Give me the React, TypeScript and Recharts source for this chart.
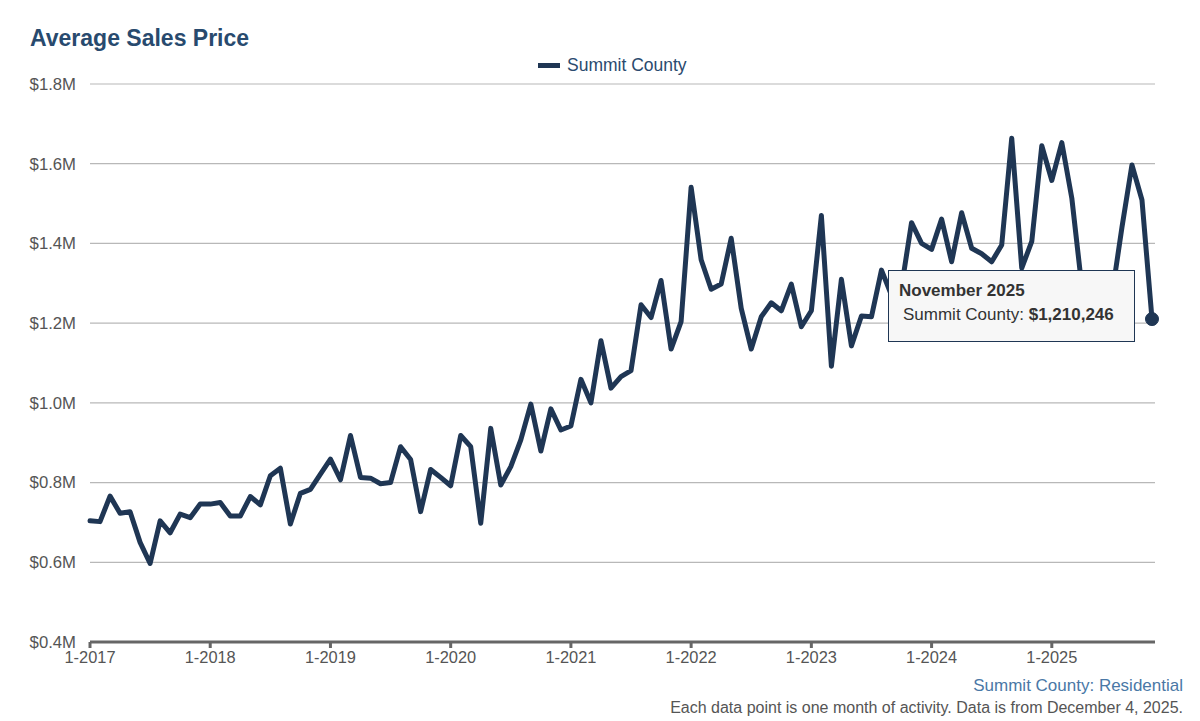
import { LineChart, Line, XAxis, YAxis, CartesianGrid, Tooltip } from 'recharts';

// Average residential sales price, one entry per month from Jan 2017 to Nov 2025
const FIRST_YEAR = 2017;
const MONTH_NAMES = [
  'January', 'February', 'March', 'April', 'May', 'June',
  'July', 'August', 'September', 'October', 'November', 'December',
];
const avgPrice = [
  // 2017
  704000, 702000, 766000, 723000, 727000, 650000, 597000, 704000, 674000, 721000, 712000, 746000,
  // 2018
  746000, 750000, 716000, 716000, 765000, 744000, 817000, 836000, 696000, 773000, 783000, 821000,
  // 2019
  859000, 807000, 918000, 813000, 811000, 797000, 800000, 890000, 858000, 727000, 833000, 813000,
  // 2020
  792000, 918000, 890000, 698000, 936000, 794000, 840000, 907000, 997000, 879000, 985000, 932000,
  // 2021
  942000, 1059000, 1000000, 1156000, 1037000, 1066000, 1081000, 1246000, 1214000, 1307000, 1135000, 1204000,
  // 2022
  1541000, 1359000, 1285000, 1298000, 1413000, 1237000, 1135000, 1216000, 1251000, 1231000, 1298000, 1191000,
  // 2023
  1231000, 1470000, 1092000, 1310000, 1143000, 1218000, 1216000, 1333000, 1270000, 1290000, 1452000, 1400000,
  // 2024
  1385000, 1461000, 1354000, 1477000, 1388000, 1374000, 1354000, 1396000, 1664000, 1338000, 1405000, 1645000,
  // 2025
  1558000, 1653000, 1513000, 1290000, 1220000, 1200000, 1270000, 1440000, 1597000, 1509000, 1210246,
];
const yTicks = [400000, 600000, 800000, 1000000, 1200000, 1400000, 1600000, 1800000];
const xTicks = [0, 12, 24, 36, 48, 60, 72, 84, 96];

const NAVY = '#1f3654';
const FONT = 'Arial, "Liberation Sans", Helvetica, sans-serif';

const data = avgPrice.map((price, i) => ({
  idx: i,
  month: `${MONTH_NAMES[i % 12]} ${FIRST_YEAR + Math.floor(i / 12)}`,
  price,
}));

const fmtAxisYear = (i: number) => `1-${FIRST_YEAR + Math.round(i / 12)}`;
const fmtMillions = (v: number) => `$${(v / 1e6).toFixed(1)}M`;

function PriceTooltip({ active, payload }: any) {
  if (!active || !payload || !payload.length) return null;
  const p = payload[0].payload;
  return (
    <div
      style={{
        boxSizing: 'border-box',
        width: 247,
        height: 72,
        background: '#f7f7f7',
        border: `1px solid ${NAVY}`,
        padding: '10px 10px',
        fontFamily: FONT,
        fontSize: 17,
        lineHeight: '20px',
        color: '#333',
      }}
    >
      <div style={{ fontWeight: 'bold' }}>{p.month}</div>
      <div style={{ marginTop: 4, paddingLeft: 4 }}>
        Summit County: <b>${p.price.toLocaleString('en-US')}</b>
      </div>
    </div>
  );
}

export default function App() {
  return (
    <div
      style={{
        position: 'absolute',
        left: 0,
        top: 0,
        width: 1200,
        height: 721,
        background: '#fff',
        fontFamily: FONT,
        overflow: 'hidden',
      }}
    >
      <div style={{ position: 'absolute', left: 0, top: 0 }}>
        <LineChart
          width={1200}
          height={700}
          data={data}
          margin={{ top: 84, right: 45, bottom: 28, left: 8 }}
        >
          <CartesianGrid vertical={false} stroke="#b8b8b8" strokeWidth={1.2} />
          <XAxis
            dataKey="idx"
            type="number"
            domain={[0, 106.3]}
            ticks={xTicks}
            tickFormatter={fmtAxisYear}
            height={30}
            axisLine={{ stroke: '#666', strokeWidth: 3 }}
            tickLine={{ stroke: '#666', strokeWidth: 3 }}
            tickSize={6}
            tickMargin={3}
            tick={{ fill: '#555', fontSize: 16.4, fontFamily: FONT }}
            interval={0}
          />
          <YAxis
            type="number"
            domain={[400000, 1800000]}
            ticks={yTicks}
            tickFormatter={fmtMillions}
            width={82}
            axisLine={false}
            tickLine={false}
            tickSize={0}
            tickMargin={14}
            tick={{ fill: '#555', fontSize: 16.7, fontFamily: FONT }}
          />
          <Tooltip
            active
            defaultIndex={106}
            position={{ x: 888, y: 270 }}
            content={<PriceTooltip />}
            cursor={false}
            isAnimationActive={false}
            wrapperStyle={{ outline: 'none', zIndex: 5 }}
          />
          <Line
            type="linear"
            dataKey="price"
            name="Summit County"
            stroke={NAVY}
            strokeWidth={5}
            strokeLinejoin="round"
            strokeLinecap="round"
            dot={false}
            activeDot={{ r: 6.5, fill: NAVY, stroke: NAVY, strokeWidth: 1 }}
            isAnimationActive={false}
          />
        </LineChart>
      </div>

      <div
        style={{
          position: 'absolute',
          left: 30,
          top: 25,
          fontSize: 23,
          fontWeight: 'bold',
          color: '#284a6e',
        }}
      >
        Average Sales Price
      </div>

      <div
        style={{
          position: 'absolute',
          left: 538,
          top: 55,
          display: 'flex',
          alignItems: 'center',
          fontSize: 17.5,
          color: '#2a4a6e',
        }}
      >
        <span style={{ display: 'inline-block', width: 22, height: 5, background: NAVY, marginRight: 7 }} />
        Summit County
      </div>

      <div
        style={{
          position: 'absolute',
          right: 17,
          top: 676,
          fontSize: 17,
          lineHeight: '20px',
          color: '#4a78a6',
          textAlign: 'right',
        }}
      >
        Summit County: Residential
      </div>
      <div
        style={{
          position: 'absolute',
          right: 17,
          top: 699,
          fontSize: 16,
          lineHeight: '18px',
          color: '#555',
          textAlign: 'right',
        }}
      >
        Each data point is one month of activity. Data is from December 4, 2025.
      </div>
    </div>
  );
}
